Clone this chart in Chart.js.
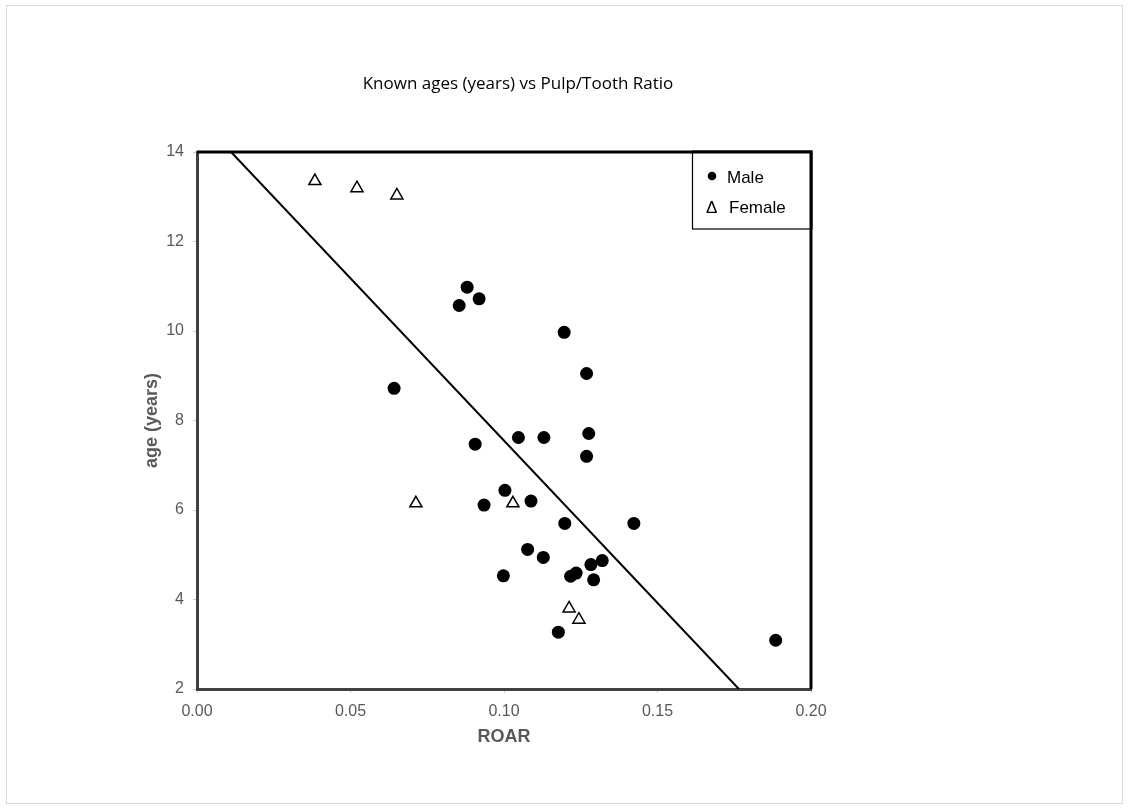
<!DOCTYPE html>
<html>
<head>
<meta charset="utf-8">
<script src="https://cdn.jsdelivr.net/npm/chart.js@4.4.1/dist/chart.umd.min.js"></script>
<style>
  html, body { margin: 0; padding: 0; background: #ffffff; }
  #wrap { position: relative; width: 1129px; height: 810px; }
  canvas { display: block; }
</style>
</head>
<body>
<div id="wrap"><canvas id="c" width="1129" height="810"></canvas></div>
<script>
// ---- Data ----
const titleText = 'Known ages (years) vs Pulp/Tooth Ratio';
const xTitle = 'ROAR';
const yTitle = 'age (years)';
const seriesNames = ['Male', 'Female'];

const maleROAR = [0.0642, 0.0880, 0.0854, 0.0919, 0.1196, 0.1269, 0.0906, 0.1047, 0.1130, 0.1276,
                  0.1269, 0.1003, 0.0935, 0.1088, 0.1198, 0.1423, 0.1077, 0.1128, 0.0998, 0.1217,
                  0.1235, 0.1283, 0.1320, 0.1292, 0.1177, 0.1885];
const maleAge  = [8.72, 10.98, 10.57, 10.72, 9.97, 9.05, 7.47, 7.62, 7.62, 7.71,
                  7.20, 6.44, 6.11, 6.20, 5.70, 5.70, 5.12, 4.94, 4.53, 4.52,
                  4.59, 4.78, 4.87, 4.44, 3.27, 3.09];

const femaleROAR = [0.0384, 0.0521, 0.0651, 0.0713, 0.1029, 0.1212, 0.1244];
const femaleAge  = [13.35, 13.19, 13.03, 6.15, 6.15, 3.80, 3.55];

const fitROAR = [0.0111, 0.1765];
const fitAge  = [14, 2];

const xTicks = [0, 0.05, 0.10, 0.15, 0.20];
const yTicks = [2, 4, 6, 8, 10, 12, 14];

const toPts = (xs, ys) => xs.map((x, i) => ({ x: x, y: ys[i] }));

// ---- Decorations plugin: outer frame, title, top/right plot border, legend ----
const deco = {
  id: 'deco',
  beforeDraw(chart) {
    const ctx = chart.ctx;
    ctx.save();
    ctx.fillStyle = '#ffffff';
    ctx.fillRect(0, 0, chart.width, chart.height);
    ctx.strokeStyle = '#d9d9d9';
    ctx.lineWidth = 1;
    ctx.strokeRect(6.5, 5.5, 1116, 798);
    ctx.restore();
  },
  afterDraw(chart) {
    const ctx = chart.ctx;
    const a = chart.chartArea;
    ctx.save();
    // title
    ctx.fillStyle = '#000000';
    ctx.font = '17px "Open Sans", "Liberation Sans", sans-serif';
    ctx.textAlign = 'center';
    ctx.textBaseline = 'middle';
    ctx.fillText(titleText, 518, 84);

    // top & right borders of plot
    ctx.strokeStyle = '#000000';
    ctx.lineWidth = 3;
    ctx.beginPath();
    ctx.moveTo(a.left, a.top);
    ctx.lineTo(a.right, a.top);
    ctx.lineTo(a.right, a.bottom);
    ctx.stroke();

    // legend box
    const lx = 692, ly = a.top, lw = a.right - 692, lh = 229 - a.top;
    ctx.fillStyle = '#ffffff';
    ctx.fillRect(lx, ly, lw, lh);
    ctx.lineWidth = 1.2;
    ctx.strokeStyle = '#000000';
    ctx.strokeRect(lx + 0.5, ly, lw, lh);
    ctx.lineWidth = 3;
    ctx.beginPath();
    ctx.moveTo(lx, a.top);
    ctx.lineTo(a.right, a.top);
    ctx.lineTo(a.right, ly + lh);
    ctx.stroke();

    ctx.fillStyle = '#000000';
    ctx.beginPath();
    ctx.arc(712, 176, 4.3, 0, Math.PI * 2);
    ctx.fill();
    ctx.font = '17px "Liberation Sans", Arial, sans-serif';
    ctx.textAlign = 'left';
    ctx.textBaseline = 'middle';
    ctx.fillText(seriesNames[0], 727, 178);
    ctx.fillText('\u0394', 706, 208);
    ctx.fillText(seriesNames[1], 729, 208);
    ctx.restore();
  }
};

const ctx = document.getElementById('c').getContext('2d');
new Chart(ctx, {
  type: 'scatter',
  data: {
    datasets: [
      {
        label: seriesNames[0],
        data: toPts(maleROAR, maleAge),
        pointStyle: 'circle',
        pointRadius: 6.5,
        pointBackgroundColor: '#000000',
        pointBorderColor: '#000000',
        pointBorderWidth: 0,
        order: 2
      },
      {
        label: seriesNames[1],
        data: toPts(femaleROAR, femaleAge),
        pointStyle: 'triangle',
        pointRadius: 7,
        pointBackgroundColor: '#ffffff',
        pointBorderColor: '#000000',
        pointBorderWidth: 1.5,
        order: 1
      },
      {
        type: 'line',
        label: 'fit',
        data: toPts(fitROAR, fitAge),
        borderColor: '#000000',
        borderWidth: 2,
        pointRadius: 0,
        showLine: true,
        fill: false,
        order: 3
      }
    ]
  },
  options: {
    responsive: false,
    animation: false,
    events: [],
    layout: { padding: { left: 137, right: 318, top: 152, bottom: 58 } },
    plugins: {
      legend: { display: false },
      title: { display: false },
      tooltip: { enabled: false }
    },
    scales: {
      x: {
        type: 'linear',
        min: 0, max: 0.2,
        afterBuildTicks(s) { s.ticks = xTicks.map(v => ({ value: v })); },
        afterFit(s) { s.height = 63; },
        grid: { drawOnChartArea: false, drawTicks: true, tickLength: 4, color: '#d0d0d0', lineWidth: 1 },
        border: { display: true, color: '#404040', width: 3 },
        ticks: {
          padding: 9,
          color: '#595959',
          font: { family: '"Liberation Sans", Arial, sans-serif', size: 16 },
          maxRotation: 0,
          autoSkip: false,
          callback: v => v.toFixed(2)
        },
        title: {
          display: true,
          text: xTitle,
          color: '#595959',
          padding: 4,
          font: { family: '"Liberation Sans", Arial, sans-serif', size: 18, weight: 'bold' }
        }
      },
      y: {
        type: 'linear',
        min: 2, max: 14,
        afterBuildTicks(s) { s.ticks = yTicks.map(v => ({ value: v })); },
        afterFit(s) { s.width = 60; },
        grid: { drawOnChartArea: false, drawTicks: true, tickLength: 4, color: '#d0d0d0', lineWidth: 1 },
        border: { display: true, color: '#404040', width: 3 },
        ticks: {
          padding: 9,
          color: '#595959',
          font: { family: '"Liberation Sans", Arial, sans-serif', size: 16 },
          autoSkip: false,
          callback: v => String(v)
        },
        title: {
          display: true,
          text: yTitle,
          color: '#595959',
          padding: 4,
          font: { family: '"Liberation Sans", Arial, sans-serif', size: 18, weight: 'bold' }
        }
      }
    }
  },
  plugins: [deco]
});
</script>
</body>
</html>
